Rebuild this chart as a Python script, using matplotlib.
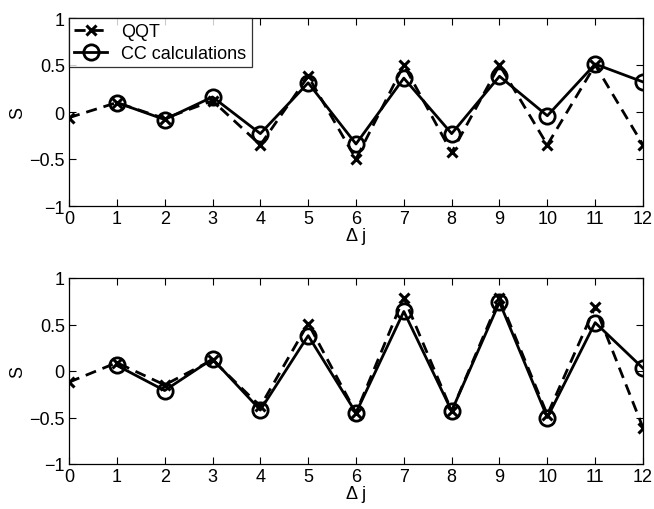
import matplotlib
matplotlib.use("Agg")
import matplotlib.pyplot as plt
import numpy as np

plt.rcParams['font.family'] = ['Liberation Sans', 'DejaVu Sans']

dj = list(range(13))
dj_cc = list(range(1, 13))

top_qqt = [-0.06, 0.10, -0.07, 0.12, -0.35, 0.38, -0.50, 0.50, -0.43, 0.50, -0.35, 0.50, -0.35]
top_cc = [0.10, -0.08, 0.16, -0.23, 0.31, -0.34, 0.36, -0.23, 0.38, -0.04, 0.51, 0.32]

bot_qqt = [-0.12, 0.09, -0.15, 0.12, -0.38, 0.51, -0.45, 0.79, -0.43, 0.78, -0.47, 0.69, -0.61]
bot_cc = [0.06, -0.21, 0.13, -0.42, 0.38, -0.45, 0.64, -0.43, 0.74, -0.50, 0.52, 0.03]

xticks = list(range(13))
yticks = [-1, -0.5, 0, 0.5, 1]
ytick_labels = ['\u22121', '\u22120.5', '0', '0.5', '1']

fig = plt.figure(figsize=(6.54, 5.10), dpi=100)
ax1 = fig.add_axes([69/654, 1-207/510, 574/654, 188/510])
ax2 = fig.add_axes([69/654, 1-465/510, 574/654, 186/510])

for ax, q, c, xl in [(ax1, top_qqt, top_cc, '\u0394 j'), (ax2, bot_qqt, bot_cc, '\u0394 j')]:
    ax.plot(dj, q, linestyle=(0, (4, 2.5)), color='black', linewidth=2,
            marker='x', markersize=7, markeredgewidth=2.2, label='QQT')
    ax.plot(dj_cc, c, linestyle='-', color='black', linewidth=2,
            marker='o', markersize=11, markerfacecolor='none', markeredgewidth=2,
            label='CC calculations')
    ax.set_xlim(0, 12)
    ax.set_ylim(-1, 1)
    ax.set_xticks(xticks)
    ax.set_yticks(yticks)
    ax.set_yticklabels(ytick_labels)
    ax.tick_params(direction='in', length=5, width=0.8, top=True, right=True,
                   labelsize=13, pad=3)
    ax.set_xlabel(xl, fontsize=13, labelpad=0)
    ax.set_ylabel('S', fontsize=13, labelpad=2)
    for s in ax.spines.values():
        s.set_linewidth(0.9)

leg = ax1.legend(loc='upper left', bbox_to_anchor=(0, 1), borderaxespad=0,
                 fontsize=13, frameon=True, fancybox=False, edgecolor='black',
                 handlelength=1.8, handletextpad=0.8, borderpad=0.3,
                 labelspacing=0.25)
leg.get_frame().set_linewidth(0.9)

fig.savefig('out.png', dpi=100, facecolor='white')
